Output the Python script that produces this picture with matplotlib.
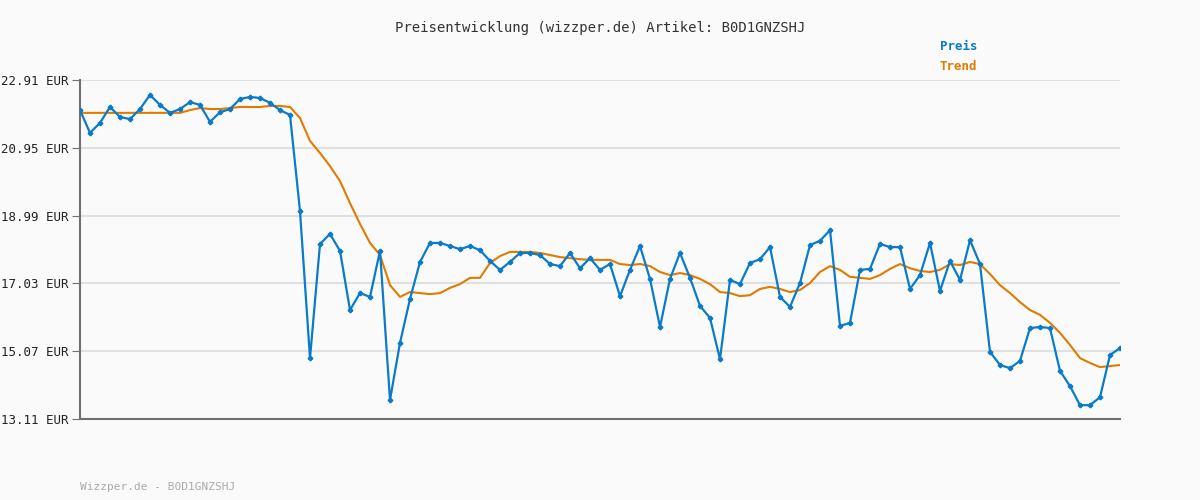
import matplotlib
matplotlib.use("Agg")
import matplotlib.pyplot as plt

price = [22.04,21.38,21.67,22.13,21.84,21.78,22.07,22.48,22.19,21.96,22.07,22.27,22.19,21.70,21.98,22.07,22.36,22.42,22.39,22.25,22.04,21.90,
19.12,14.87,18.17,18.46,17.97,16.26,16.75,16.64,17.97,13.66,15.31,16.58,17.65,18.20,18.20,18.11,18.02,18.11,17.99,17.68,17.42,17.65,17.91,17.91,17.85,17.59,17.53,17.91,17.47,17.76,17.42,17.59,16.66,17.42,18.11,17.16,15.77,17.16,17.91,17.19,16.38,16.03,14.84,17.13,17.01,17.62,17.73,18.08,16.64,16.35,17.04,18.14,18.26,18.57,15.80,15.89,17.42,17.45,18.17,18.08,18.08,16.87,17.27,18.20,16.81,17.68,17.13,18.28,17.59,15.05,14.67,14.58,14.79,15.74,15.77,15.74,14.50,14.06,13.51,13.51,13.74,14.96,15.16]
trend = [21.96]*11 + [22.04,22.10,22.07,22.07,22.10,22.13,22.13,22.13,22.16,22.16,22.13,21.81,21.15,20.80,20.42,19.99,19.35,18.75,18.20,17.85,16.98,16.64,16.78,16.75,16.72,16.75,16.90,17.01,17.19,17.19,17.62,17.82,17.94,17.94,17.94,17.91,17.85,17.79,17.76,17.73,17.71,17.71,17.71,17.59,17.56,17.59,17.53,17.36,17.27,17.33,17.27,17.16,17.01,16.78,16.75,16.66,16.69,16.87,16.93,16.87,16.78,16.84,17.04,17.36,17.53,17.42,17.22,17.19,17.16,17.27,17.45,17.59,17.47,17.39,17.36,17.42,17.59,17.56,17.65,17.59,17.30,16.98,16.75,16.49,16.26,16.12,15.89,15.60,15.25,14.87,14.73,14.61,14.64,14.67]
yticks = [13.11,15.07,17.03,18.99,20.95,22.91]
title = "Preisentwicklung (wizzper.de) Artikel: B0D1GNZSHJ"
footer = "Wizzper.de - B0D1GNZSHJ"

n = min(len(price), len(trend))
price = price[:n]; trend = trend[:n]
x = list(range(n))

mono = "DejaVu Sans Mono"
bg = "#fafafa"
fig = plt.figure(figsize=(12, 5), dpi=100, facecolor=bg)
ax = fig.add_axes([80/1200, 1-419/500, 1040/1200, 339/500], facecolor=bg)
ax.plot(x, trend, color="#e07b00", lw=1.5, zorder=2)
ax.plot(x, price, color="#0a7bc8", lw=1.6, marker="P", ms=3, zorder=3)
ax.set_xlim(0, n-1)
ax.set_ylim(13.11, 22.91)
ax.set_yticks(yticks)
ax.set_yticklabels([f"{v:.2f} EUR" for v in yticks], fontfamily=mono, fontsize=9, color="#222222")
ax.set_xticks([])
ax.grid(axis="y", color="#e0e0e0", lw=1.5)
ax.set_axisbelow(True)
for s in ["top", "right"]:
    ax.spines[s].set_visible(False)
for s in ["left", "bottom"]:
    ax.spines[s].set_color("#707070"); ax.spines[s].set_linewidth(1.5)
ax.tick_params(axis="y", length=6, color="#707070", pad=2)
fig.text(0.5, 1-28/500, title, ha="center", va="center", fontfamily=mono, fontsize=10, color="#333333")
fig.text(940/1200, 1-47/500, "Preis", fontfamily=mono, fontsize=9, color="#0a7bc8", weight="bold", va="center")
fig.text(940/1200, 1-67/500, "Trend", fontfamily=mono, fontsize=9, color="#e07b00", weight="bold", va="center")
fig.text(80/1200, 1-487/500, footer, fontfamily=mono, fontsize=8, color="#aaaaaa", va="center")
fig.savefig("out.png", dpi=100, facecolor=bg)
